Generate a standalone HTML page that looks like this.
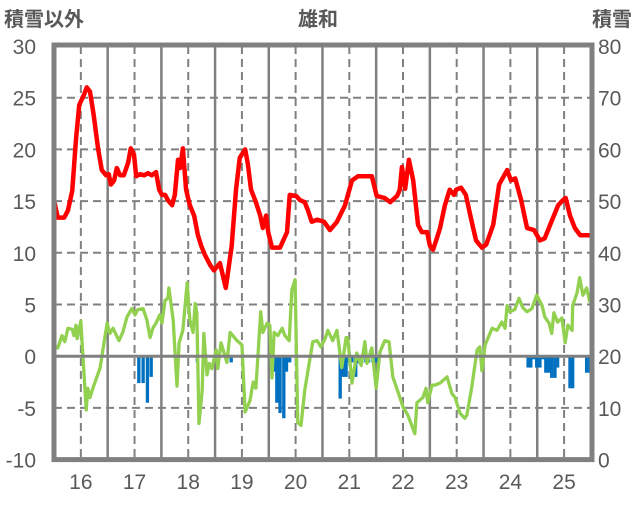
<!DOCTYPE html>
<html><head><meta charset="utf-8"><style>
body{margin:0;background:#fff;}
svg text{font-family:"Liberation Sans","Noto Sans CJK JP",sans-serif;fill:#595959;}
</style></head><body>
<svg id="chart" width="636" height="501" xmlns="http://www.w3.org/2000/svg">
<text x="4" y="26" font-size="20" font-weight="bold">積雪以外</text>
<text x="318" y="26" font-size="20" font-weight="bold" text-anchor="middle">雄和</text>
<text x="632" y="26" font-size="20" font-weight="bold" text-anchor="end">積雪</text>
<g id="grid"></g>
<g id="bars"></g>
<g id="lines"></g>
<g id="axes"></g>
</svg>
<script>
const leftTicks=[-10,-5,0,5,10,15,20,25,30];
const rightTicks=[0,10,20,30,40,50,60,70,80];
const dayLabels=[16,17,18,19,20,21,22,23,24,25];
const redDays=[15.50,15.57,15.69,15.76,15.84,15.91,15.97,16.06,16.11,16.17,16.24,16.32,16.39,16.47,16.52,16.56,16.62,16.67,16.73,16.80,16.88,16.93,16.99,17.03,17.10,17.18,17.25,17.32,17.40,17.46,17.51,17.57,17.62,17.70,17.75,17.81,17.85,17.90,17.96,18.03,18.11,18.18,18.24,18.31,18.41,18.48,18.59,18.70,18.81,18.89,18.96,19.06,19.11,19.17,19.26,19.34,19.39,19.45,19.49,19.56,19.71,19.84,19.89,20.01,20.08,20.17,20.23,20.30,20.40,20.53,20.64,20.77,20.92,21.05,21.16,21.42,21.51,21.66,21.76,21.89,21.94,21.98,22.04,22.11,22.19,22.28,22.35,22.45,22.50,22.56,22.63,22.69,22.78,22.87,22.95,22.99,23.08,23.17,23.28,23.36,23.47,23.55,23.68,23.79,23.94,24.01,24.09,24.20,24.31,24.44,24.55,24.64,24.74,24.89,24.98,25.03,25.11,25.20,25.30,25.48];
const redVals=[15.1,13.4,13.4,14.1,16,21,24.3,25.3,26,25.6,23.3,20.1,18,17.5,17.6,16.6,17,18.2,17.5,17.5,18.7,20.1,19.5,17.4,17.6,17.5,17.7,17.5,17.8,16.1,15.6,15.6,15.1,14.6,15.6,19,18.2,20.1,16.1,14.6,13.6,11.7,10.7,9.8,8.8,8.3,9.0,6.6,10.7,16.1,19.2,20,18.6,16.1,14.9,13.6,12.4,13.6,12,10.5,10.5,12,15.6,15.5,15.1,14.9,14.1,13,13.2,13,12.2,13,14.6,17,17.4,17.4,15.5,15.3,14.9,15.5,16.1,18.3,16.2,19,17,12.7,12,12,10.7,10.3,11.4,12.4,14.6,16.1,15.6,16.1,16.3,15.6,13,11.2,10.5,10.8,12.7,16.6,18,17,17.2,15.1,12.4,12.2,11.2,11.4,12.7,14.6,15.1,15.3,13.6,12.4,11.7,11.7];
const greenDays=[15.48,15.57,15.65,15.70,15.76,15.84,15.87,15.91,15.93,16.00,16.04,16.10,16.13,16.17,16.23,16.30,16.36,16.41,16.49,16.54,16.60,16.71,16.78,16.86,16.95,17.01,17.06,17.16,17.23,17.29,17.34,17.40,17.47,17.51,17.57,17.62,17.64,17.72,17.79,17.83,17.90,17.98,18.03,18.09,18.13,18.16,18.20,18.26,18.29,18.35,18.39,18.44,18.52,18.55,18.61,18.72,18.78,18.91,19.00,19.06,19.15,19.21,19.26,19.35,19.39,19.47,19.52,19.56,19.60,19.67,19.75,19.80,19.88,19.93,19.99,20.04,20.10,20.17,20.23,20.32,20.40,20.47,20.55,20.60,20.69,20.77,20.86,20.94,20.97,21.05,21.14,21.22,21.29,21.33,21.42,21.50,21.57,21.66,21.74,21.81,21.91,22.00,22.09,22.22,22.26,22.37,22.43,22.46,22.54,22.59,22.69,22.82,22.91,22.97,23.06,23.15,23.19,23.28,23.38,23.43,23.47,23.53,23.66,23.75,23.84,23.90,23.94,23.99,24.08,24.16,24.23,24.31,24.40,24.49,24.59,24.64,24.72,24.77,24.81,24.88,24.96,25.02,25.07,25.15,25.16,25.24,25.29,25.35,25.42,25.48];
const greenVals=[1.0,0.8,2.0,1.4,2.7,2.6,2.0,3.0,1.7,3.4,-0.1,-5.2,-3.1,-4.0,-3.0,-2.0,-1.1,0.6,3.2,2.2,2.7,1.5,2.3,3.8,4.6,4.0,4.5,4.6,3.5,1.8,2.7,3.2,4.0,3.2,5.4,5.6,6.6,3.5,-2.9,1.3,2.5,7.1,3.5,2.3,5.1,4.2,-6.5,-3.3,2.2,-1.8,-0.7,-1.2,0.6,-1.2,1.3,-0.6,2.3,1.5,1.1,-5.4,-4.3,-2.5,-3.1,4.3,2.3,3.2,3.0,-2.1,2.3,2.0,2.7,2.0,1.5,6.4,7.4,-6.4,-6.7,-3.3,-1.4,1.4,1.5,0.9,1.7,2.5,1.5,2.5,-1.1,1.8,1.8,-2.6,0.3,-0.9,1.4,-0.7,0.8,-3.1,0.4,1.5,1.4,-2.0,-3.5,-4.9,-5.7,-7.5,-4.5,-4.0,-3.1,-4.5,-2.8,-2.8,-2.6,-2.0,-3.6,-4.0,-5.5,-6.0,-5.7,-3.0,0.6,0.9,-1.4,1.1,2.7,2.5,3.3,2.7,4.9,4.3,4.5,5.6,4.7,4.3,4.6,5.9,4.9,3.8,3.2,2.2,4.2,3.3,3.7,1.3,3.0,2.5,4.9,6.1,7.6,5.9,6.6,5.2];
const barDays=[17.08,17.16,17.24,17.31,18.17,18.80,19.60,19.65,19.71,19.78,19.83,19.89,20.83,20.88,20.94,21.00,21.05,21.12,21.18,21.23,21.31,21.36,21.44,21.50,24.33,24.38,24.44,24.49,24.55,24.61,24.66,24.72,24.77,24.83,24.88,25.11,25.16,25.42,25.48];
const barVals=[-2.6,-2.6,-4.5,-2.0,-0.6,-0.6,-1.5,-4.5,-5.5,-6.0,-1.5,-0.6,-4.1,-2.0,-2.0,-0.6,-0.6,-2.0,-0.7,-0.7,-0.6,-0.6,-0.6,-0.6,-1.1,-1.1,-0.3,-1.1,-1.1,-0.3,-1.6,-1.6,-2.1,-2.1,-1.1,-3.1,-3.1,-1.6,-1.6];

const NS="http://www.w3.org/2000/svg";
const L=54,R=592,T=46,B=459.6;
const x=d=>L+(d-15.5)*(R-L)/10.02;
const y=v=>B-(v+10)*(B-T)/40;
function mk(tag,attrs,parent){const e=document.createElementNS(NS,tag);for(const k in attrs)e.setAttribute(k,attrs[k]);parent.appendChild(e);return e;}
const grid=document.getElementById('grid'),axes=document.getElementById('axes'),bars=document.getElementById('bars'),lines=document.getElementById('lines');
leftTicks.forEach((t,i)=>{
  if(t!==0&&t!==30&&t!==-10){const g=mk('line',{x1:L,x2:R,y1:y(t),y2:y(t),stroke:'#808080','stroke-width':2,'stroke-dasharray':'8,5'},grid);
  
  }
  const tl=mk('text',{x:36,y:y(t)+8,'font-size':21,'text-anchor':'end'},axes);tl.textContent=t;
  
  
  const tr=mk('text',{x:598,y:y(t)+8,'font-size':21},axes);tr.textContent=rightTicks[i];
  
  
});
dayLabels.forEach(d=>{
  const g=mk('line',{x1:x(d),x2:x(d),y1:T,y2:B,stroke:'#808080','stroke-width':2,'stroke-dasharray':'8,5'},grid);
  
  
  if(d<25.5){const s=mk('line',{x1:x(d+0.5),x2:x(d+0.5),y1:T,y2:B,stroke:'#808080','stroke-width':2.5},grid);
  
  }
  const t=mk('text',{x:x(d),y:489,'font-size':21,'text-anchor':'middle'},axes);t.textContent=d;
  
  
});
barDays.forEach((d,i)=>{
  const w=0.062*(R-L)/10.02;
  const r=mk('rect',{x:x(d)-w/2,y:y(0),width:w,height:y(barVals[i])-y(0),fill:'#0070c0'},bars);
  
  
});
const z=mk('line',{x1:L,x2:R,y1:y(0),y2:y(0),stroke:'#808080','stroke-width':3},axes);


const gp=mk('polyline',{points:greenDays.map((d,i)=>x(d)+','+y(greenVals[i])).join(' '),fill:'none',stroke:'#92d050','stroke-width':3.3,'stroke-linejoin':'round'},lines);


const rp=mk('polyline',{points:redDays.map((d,i)=>x(d)+','+y(redVals[i])).join(' '),fill:'none',stroke:'#ff0000','stroke-width':4.5,'stroke-linejoin':'round'},lines);


const f=mk('rect',{x:L,y:T-1,width:R-L,height:B-T+1,fill:'none',stroke:'#808080','stroke-width':5},axes);


</script>
</body></html>
